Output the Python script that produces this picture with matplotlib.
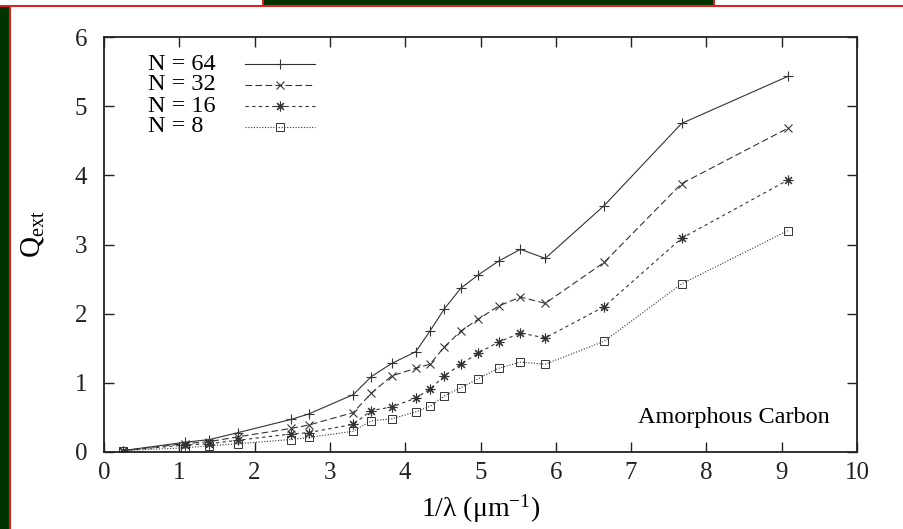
import matplotlib
matplotlib.use("Agg")
import matplotlib.pyplot as plt
from matplotlib.patches import Rectangle
from matplotlib.lines import Line2D

plt.rcParams['font.family'] = ['Liberation Serif', 'DejaVu Serif']
plt.rcParams['mathtext.fontset'] = 'custom'
plt.rcParams['mathtext.rm'] = 'Liberation Serif'
plt.rcParams['mathtext.it'] = 'Liberation Serif:italic'

# Data
inv_lambda = [0.25, 1.07, 1.40, 1.78, 2.48, 2.72, 3.31, 3.55, 3.82, 4.14,
              4.33, 4.52, 4.74, 4.97, 5.24, 5.53, 5.86, 6.64, 7.67, 9.08]
q_n64 = [0.02, 0.14, 0.18, 0.28, 0.47, 0.55, 0.83, 1.09, 1.28, 1.45,
         1.75, 2.07, 2.37, 2.56, 2.76, 2.93, 2.80, 3.56, 4.75, 5.43]
q_n32 = [0.02, 0.12, 0.15, 0.22, 0.34, 0.39, 0.57, 0.85, 1.10, 1.21,
         1.27, 1.52, 1.75, 1.92, 2.11, 2.24, 2.15, 2.74, 3.88, 4.68]
q_n16 = [0.02, 0.10, 0.12, 0.17, 0.26, 0.28, 0.40, 0.60, 0.65, 0.78,
         0.91, 1.10, 1.27, 1.43, 1.59, 1.72, 1.65, 2.10, 3.09, 3.93]
q_n8 = [0.02, 0.06, 0.09, 0.12, 0.18, 0.21, 0.30, 0.45, 0.48, 0.58,
        0.66, 0.81, 0.93, 1.06, 1.21, 1.30, 1.27, 1.60, 2.43, 3.20]
labels = ['N = 64', 'N = 32', 'N = 16', 'N = 8']
x_ticks = list(range(0, 11))
y_ticks = list(range(0, 7))

W, H = 904, 529
fig = plt.figure(figsize=(W / 100, H / 100), dpi=100)
fig.patch.set_facecolor('white')

# Decorative frame (slide border)
def px_rect(x0, y0, x1, y1, **kw):
    r = Rectangle((x0 / W, 1 - y1 / H), (x1 - x0) / W, (y1 - y0) / H,
                  transform=fig.transFigure, **kw)
    fig.add_artist(r)

green = '#003300'
red = '#e0201c'
px_rect(0, 7, 9, H, facecolor=green, edgecolor='none', zorder=0)
px_rect(263, 0, 715, 5, facecolor=green, edgecolor='none', zorder=0)
px_rect(262, 0, 264, 6, facecolor=red, edgecolor='none', zorder=0)
px_rect(713, 0, 715, 6, facecolor=red, edgecolor='none', zorder=0)
px_rect(0, 5, W, 7, facecolor=red, edgecolor='none', zorder=0)
px_rect(9, 5, 11, H, facecolor=red, edgecolor='none', zorder=0)

AX_L, AX_R, AX_T, AX_B = 104, 857, 37, 452
ax = fig.add_axes([AX_L / W, 1 - AX_B / H, (AX_R - AX_L) / W, (AX_B - AX_T) / H])
ax.set_facecolor('white')

def ax_x(px):
    return (px - AX_L) / (AX_R - AX_L)

def ax_y(py):
    return (AX_B - py) / (AX_B - AX_T)

lc = '#333333'
styles = [
    dict(linestyle='-', marker='+', markersize=7, mew=0.8),
    dict(linestyle=(0, (6, 3)), marker='x', markersize=6, mew=0.8),
    dict(linestyle=(0, (3, 3)), marker=(8, 2, 0), markersize=7, mew=0.8),
    dict(linestyle=(0, (1, 1.5)), marker='s', markersize=6, mew=0.7,
         markerfacecolor='none'),
]
series = [q_n64, q_n32, q_n16, q_n8]
for ys, lab, st in zip(series, labels, styles):
    ax.plot(inv_lambda, ys, color=lc, linewidth=0.8, label=lab, **st)

# Legend (gnuplot style: left-aligned text, sample on right)
row_y = [64, 85, 106, 127]
for lab, st, ry in zip(labels, styles, row_y):
    yy = ax_y(ry)
    ax.text(ax_x(148), yy, lab, transform=ax.transAxes, ha='left',
            va='center', fontsize=17.5)
    ln = Line2D([ax_x(245), ax_x(280), ax_x(315)], [yy, yy, yy],
                transform=ax.transAxes, color=lc, linewidth=0.8,
                markevery=[1], **st)
    ax.add_line(ln)

ax.set_xlim(0, 10)
ax.set_ylim(0, 6)
ax.set_xticks(x_ticks)
ax.set_yticks(y_ticks)
ax.tick_params(direction='in', top=True, right=True, length=7, width=1,
               labelsize=18, colors='#222222')
ax.tick_params(axis='x', pad=7)
ax.tick_params(axis='y', pad=12)
for sp in ax.spines.values():
    sp.set_linewidth(1.3)
    sp.set_color('#222222')

ax.set_xlabel('1/λ (μm$^{-1}$)', fontsize=20, labelpad=6)
ax.set_ylabel(r'Q$_{\mathrm{ext}}$', fontsize=21)
ax.yaxis.set_label_coords(ax_x(46), ax_y(234))

ax.text(ax_x(830), ax_y(418), 'Amorphous Carbon', transform=ax.transAxes,
        ha='right', va='center', fontsize=17.5)

fig.savefig('out.png', dpi=100, facecolor='white')
